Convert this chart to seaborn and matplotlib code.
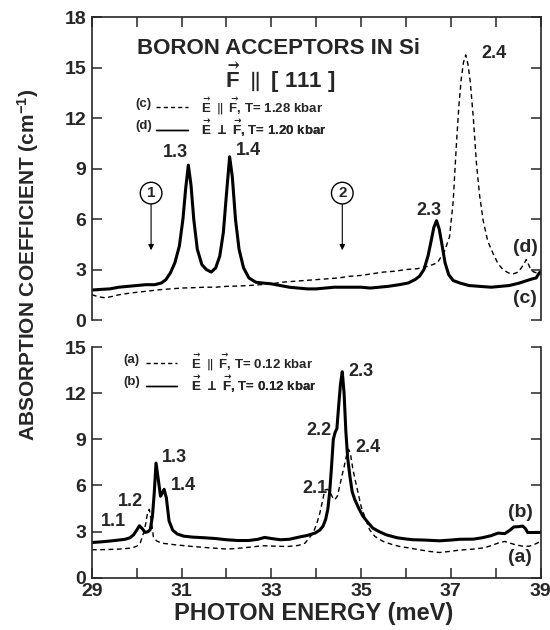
import numpy as np
import pandas as pd
import matplotlib
matplotlib.use("Agg")
import matplotlib.pyplot as plt
import seaborn as sns
from matplotlib.lines import Line2D
from matplotlib.ticker import MultipleLocator

# ---------------- data ----------------
# top panel, (d) E perp F (solid), T = 1.20 kbar
top_solid_x = [29.0, 29.2, 29.4, 29.6, 29.8, 30.0, 30.2, 30.4, 30.55, 30.65, 30.75, 30.85, 30.95,
               31.03, 31.09, 31.15, 31.21, 31.27, 31.35, 31.45, 31.55, 31.66, 31.76, 31.85, 31.93,
               32.0, 32.07, 32.13, 32.2, 32.28, 32.38, 32.5, 32.65, 32.8, 33.0, 33.2, 33.4, 33.6,
               33.8, 34.0, 34.2, 34.4, 34.6, 34.8, 35.0, 35.2, 35.4, 35.6, 35.85, 36.05, 36.2, 36.3,
               36.4, 36.49, 36.56, 36.62, 36.68, 36.74, 36.8, 36.87, 36.95, 37.05, 37.2, 37.4, 37.64,
               37.9, 38.1, 38.3, 38.53, 38.7, 38.82, 38.9, 38.97, 39.0]
top_solid_y = [1.78, 1.82, 1.85, 1.95, 2.0, 2.05, 2.1, 2.1, 2.2, 2.4, 2.8, 3.4, 4.4,
               6.0, 7.8, 9.2, 8.0, 6.0, 4.2, 3.3, 3.0, 2.85, 3.1, 3.8, 5.2,
               7.5, 9.7, 8.5, 6.0, 4.2, 3.1, 2.5, 2.25, 2.2, 2.15, 2.05, 1.95, 1.9,
               1.85, 1.85, 1.9, 1.95, 1.95, 1.95, 1.95, 1.9, 1.95, 2.0, 2.1, 2.2, 2.4, 2.6,
               3.0, 3.8, 4.7, 5.5, 5.9, 5.4, 4.5, 3.4, 2.7, 2.35, 2.2, 2.05, 2.0,
               1.95, 2.0, 2.05, 2.2, 2.35, 2.45, 2.5, 2.8, 2.85]

# top panel, (c) E par F (dashed), T = 1.28 kbar
top_dash_x = [29.0, 29.15, 29.3, 29.45, 29.6, 29.8, 30.0, 30.25, 30.5, 30.75, 31.0, 31.25, 31.5,
              31.75, 32.0, 32.25, 32.5, 32.75, 33.0, 33.25, 33.5, 33.75, 34.0, 34.25, 34.5, 34.75,
              35.0, 35.25, 35.5, 35.75, 36.0, 36.25, 36.5, 36.7, 36.86, 36.97, 37.05, 37.12, 37.18,
              37.23, 37.28, 37.33, 37.38, 37.43, 37.5, 37.57, 37.64, 37.72, 37.82, 37.94, 38.05,
              38.16, 38.28, 38.4, 38.5, 38.57, 38.63, 38.68, 38.73, 38.78, 38.85, 39.0]
top_dash_y = [1.5, 1.38, 1.32, 1.4, 1.5, 1.58, 1.65, 1.72, 1.8, 1.85, 1.9, 1.92, 1.95,
              1.95, 2.0, 2.02, 2.05, 2.1, 2.15, 2.25, 2.3, 2.35, 2.4, 2.45, 2.5, 2.6,
              2.65, 2.75, 2.85, 2.9, 3.0, 3.05, 3.2, 3.4, 4.1, 4.95, 7.0, 10.3, 12.8,
              14.3, 15.3, 15.75, 15.2, 14.2, 12.0, 9.3, 7.4, 5.9, 4.7, 3.95, 3.35,
              3.0, 2.8, 2.75, 2.85, 3.1, 3.35, 3.6, 3.3, 3.0, 2.85, 2.75]

# bottom panel, (b) E perp F (solid), T = 0.12 kbar
bot_solid_x = [29.0, 29.2, 29.45, 29.6, 29.74, 29.85, 29.93, 30.0, 30.06, 30.12, 30.19, 30.25,
               30.3, 30.35, 30.39, 30.43, 30.48, 30.53, 30.57, 30.61, 30.66, 30.72, 30.8, 30.9,
               31.05, 31.25, 31.5, 31.75, 32.0, 32.25, 32.5, 32.7, 32.85, 33.0, 33.2, 33.4, 33.63,
               33.8, 33.97, 34.08, 34.15, 34.21, 34.26, 34.3, 34.34, 34.38, 34.42, 34.46, 34.5,
               34.54, 34.58, 34.62, 34.66, 34.7, 34.75, 34.8, 34.86, 34.95, 35.04, 35.15, 35.26,
               35.4, 35.56, 35.8, 36.0, 36.15, 36.4, 36.75, 37.0, 37.2, 37.5, 37.7, 37.89, 38.05,
               38.2, 38.32, 38.4, 38.5, 38.6, 38.66, 38.71, 38.85, 39.0]
bot_solid_y = [2.29, 2.33, 2.4, 2.45, 2.5, 2.6, 2.79, 3.1, 3.38, 3.2, 2.94, 3.0,
               3.12, 4.0, 5.5, 7.46, 6.4, 5.3, 5.5, 5.75, 5.2, 3.7, 3.1, 2.85,
               2.7, 2.64, 2.6, 2.55, 2.47, 2.42, 2.42, 2.5, 2.62, 2.55, 2.47, 2.5, 2.65,
               2.75, 2.9, 3.1, 3.35, 3.8, 4.5, 5.6, 7.2, 9.0, 9.45, 9.7, 11.2,
               12.6, 13.4, 12.0, 9.5, 7.8, 6.6, 5.6, 5.07, 4.5, 4.0, 3.6, 3.23,
               3.0, 2.79, 2.6, 2.52, 2.47, 2.45, 2.4, 2.45, 2.5, 2.51, 2.6, 2.73, 2.9,
               2.87, 3.1, 3.3, 3.32, 3.36, 3.2, 2.94, 2.94, 2.95]

# bottom panel, (a) E par F (dashed), T = 0.12 kbar
bot_dash_x = [29.0, 29.3, 29.6, 29.89, 30.0, 30.08, 30.15, 30.2, 30.24, 30.28, 30.32, 30.37,
              30.44, 30.55, 30.86, 31.25, 31.6, 32.03, 32.4, 32.81, 33.1, 33.36, 33.6, 33.75,
              33.93, 34.01, 34.08, 34.14, 34.19, 34.25, 34.3, 34.36, 34.41, 34.47, 34.52, 34.57,
              34.62, 34.67, 34.72, 34.76, 34.82, 34.9, 35.0, 35.1, 35.19, 35.3, 35.49, 35.7,
              35.86, 36.1, 36.33, 36.55, 36.75, 37.0, 37.2, 37.5, 37.75, 37.89, 38.05, 38.2,
              38.32, 38.44, 38.6, 38.75, 38.85, 39.0]
bot_dash_y = [1.82, 1.83, 1.86, 1.93, 2.05, 2.27, 2.9, 3.5, 4.2, 4.45, 3.8, 2.68,
              2.4, 2.25, 2.14, 2.03, 1.95, 1.86, 1.95, 2.08, 2.05, 2.03, 2.1, 2.25,
              2.9, 3.5, 4.2, 5.0, 5.7, 5.75, 5.6, 5.25, 5.07, 5.3, 5.93, 6.6,
              7.2, 7.9, 8.35, 8.1, 7.0, 5.93, 4.63, 3.8, 3.12, 2.7, 2.36, 2.15,
              2.03, 1.92, 1.8, 1.7, 1.64, 1.72, 1.8, 1.86, 1.95, 2.08, 2.25, 2.36,
              2.25, 2.14, 2.05, 2.05, 2.15, 2.36]

top_peak_labels = ["1.3", "1.4", "2.3", "2.4"]
top_peak_pos = [(30.87, 9.95), (32.5, 10.1), (36.5, 6.5), (37.95, 15.85)]
bot_peak_labels = ["1.1", "1.2", "1.3", "1.4", "2.1", "2.2", "2.3", "2.4"]
bot_peak_pos = [(29.49, 3.65), (29.85, 4.95), (30.85, 7.8), (31.03, 6.0),
                (33.97, 5.8), (34.05, 9.6), (35.0, 13.4), (35.15, 8.5)]

top_yticks = [0, 3, 6, 9, 12, 15, 18]
bot_yticks = [0, 3, 6, 9, 12, 15]
xticks_lab = [29, 31, 33, 35, 37, 39]

# ---------------- style ----------------
sns.set_theme(style="ticks")
FONT = ["Liberation Sans", "DejaVu Sans"]
plt.rcParams["font.family"] = FONT
plt.rcParams["font.weight"] = "bold"
plt.rcParams["mathtext.fontset"] = "custom"
plt.rcParams["mathtext.rm"] = "Liberation Sans:bold"
plt.rcParams["mathtext.bf"] = "Liberation Sans:bold"
plt.rcParams["mathtext.it"] = "Liberation Sans:bold"
plt.rcParams["mathtext.sf"] = "Liberation Sans:bold"
plt.rcParams["mathtext.fallback"] = "stixsans"
plt.rcParams["axes.linewidth"] = 1.2

fig = plt.figure(figsize=(5.5, 6.3), dpi=100)
ax1 = fig.add_axes([0.167, 0.492, 0.816, 0.481])
ax2 = fig.add_axes([0.167, 0.083, 0.816, 0.366])

def draw(ax, x, y, dashed):
    df = pd.DataFrame({"E": x, "A": y})
    if dashed:
        sns.lineplot(data=df, x="E", y="A", ax=ax, color="black", lw=1.0,
                     linestyle=(0, (3.5, 2.5)), estimator=None)
    else:
        sns.lineplot(data=df, x="E", y="A", ax=ax, color="black", lw=2.2,
                     estimator=None)

draw(ax1, top_dash_x, top_dash_y, True)
draw(ax1, top_solid_x, top_solid_y, False)
draw(ax2, bot_dash_x, bot_dash_y, True)
draw(ax2, bot_solid_x, bot_solid_y, False)

for ax, yt, ymax in [(ax1, top_yticks, 18), (ax2, bot_yticks, 15)]:
    ax.set_xlim(29, 39)
    ax.set_ylim(0, ymax)
    ax.set_yticks(yt)
    ax.set_xlabel("")
    ax.set_ylabel("")
    ax.tick_params(axis="both", direction="in", length=7, width=1.1,
                   labelsize=14, pad=4)
    ax.tick_params(axis="y", left=True, right=True)
    for lab in ax.get_yticklabels():
        lab.set_fontweight("bold")

# top panel: no bottom spine, ticks on top
ax1.spines["bottom"].set_visible(False)
ax1.xaxis.set_major_locator(MultipleLocator(1))
ax1.tick_params(axis="x", top=True, bottom=False, labelbottom=False, labeltop=False)
# bottom panel: no top spine
ax2.spines["top"].set_visible(False)
ax2.set_xticks(xticks_lab)
ax2.xaxis.set_minor_locator(MultipleLocator(1))
ax2.tick_params(axis="x", which="both", top=False, bottom=True, direction="in",
                length=7, width=1.1, pad=4)
for lab in ax2.get_xticklabels():
    lab.set_fontweight("bold")

# titles
ax1.text(33.15, 16.15, "BORON ACCEPTORS IN Si", ha="center", va="center",
         fontsize=16, fontweight="bold")
ax1.text(33.2, 14.4, r"$\vec{\mathbf{F}}\ \parallel\ $[ 111 ]", ha="center", va="center",
         fontsize=16, fontweight="bold")

# legends: one row per legend so each row sits exactly where it should
def legend_row(ax, label, dashed, tag, tagx, hx, y):
    ls = (0, (3, 2.2)) if dashed else "-"
    h = Line2D([], [], color="black", lw=1.0, linestyle=ls)
    lg = ax.legend([h], [label], loc="center left", bbox_to_anchor=(hx, y - 0.007),
                   frameon=False, fontsize=9.5, handlelength=2.4, handletextpad=1.0,
                   borderpad=0, borderaxespad=0)
    for t in lg.get_texts():
        t.set_fontweight("bold")
    ax.add_artist(lg)
    ax.text(tagx, y, tag, transform=ax.transAxes, ha="center", va="center", fontsize=9.5)

legend_row(ax1, r"$\vec{\mathbf{E}}\ \parallel\ \vec{\mathbf{F}}$, T= 1.28 kbar", True,
           "(c)", 0.115, 0.143, 0.714)
legend_row(ax1, r"$\vec{\mathbf{E}}\ \bot\ \vec{\mathbf{F}}$, T= 1.20 kbar", False,
           "(d)", 0.115, 0.143, 0.640)
legend_row(ax2, r"$\vec{\mathbf{E}}\ \parallel\ \vec{\mathbf{F}}$, T= 0.12 kbar", True,
           "(a)", 0.089, 0.120, 0.946)
legend_row(ax2, r"$\vec{\mathbf{E}}\ \bot\ \vec{\mathbf{F}}$, T= 0.12 kbar", False,
           "(b)", 0.089, 0.120, 0.847)

# peak labels
for lab, (x, y) in zip(top_peak_labels, top_peak_pos):
    ax1.text(x, y, lab, ha="center", va="center", fontsize=13, fontweight="bold")
for lab, (x, y) in zip(bot_peak_labels, bot_peak_pos):
    ax2.text(x, y, lab, ha="center", va="center", fontsize=13, fontweight="bold")

ax1.text(38.66, 4.33, "(d)", ha="center", va="center", fontsize=14, fontweight="bold")
ax1.text(38.66, 1.3, "(c)", ha="center", va="center", fontsize=14, fontweight="bold")
ax2.text(38.54, 4.25, "(b)", ha="center", va="center", fontsize=14, fontweight="bold")
ax2.text(38.54, 1.3, "(a)", ha="center", va="center", fontsize=14, fontweight="bold")

# circled markers with arrows
for num, xc in [("1", 30.32), ("2", 34.58)]:
    ax1.annotate(num, xy=(xc, 4.15), xytext=(xc, 7.54), ha="center", va="center",
                 fontsize=11, fontweight="bold",
                 bbox=dict(boxstyle="circle,pad=0.25", fc="white", ec="black", lw=1.0),
                 arrowprops=dict(arrowstyle="-|>", color="black", lw=0.8,
                                 mutation_scale=8, shrinkA=0, shrinkB=0))

fig.text(0.051, 0.579, r"ABSORPTION COEFFICIENT (cm$^{\mathbf{-1}}$)", rotation=90,
         ha="center", va="center", fontsize=15, fontweight="bold")
fig.text(0.57, 0.026, "PHOTON ENERGY (meV)", ha="center", va="center",
         fontsize=17, fontweight="bold")

fig.savefig("out.png", dpi=100)
